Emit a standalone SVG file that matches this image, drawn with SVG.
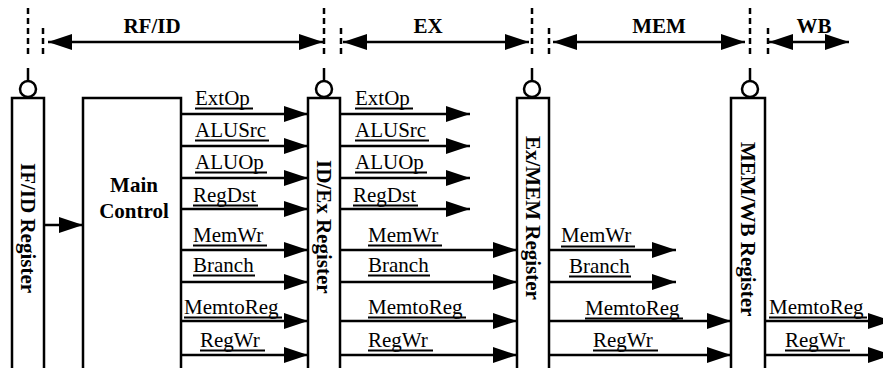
<svg xmlns="http://www.w3.org/2000/svg" width="883" height="368" viewBox="0 0 883 368">
<defs>
<marker id="ah" markerUnits="userSpaceOnUse" markerWidth="24" markerHeight="16" refX="24" refY="8" orient="auto-start-reverse" viewBox="0 0 24 16"><path d="M0,0 L24,8 L0,16 z" fill="#000"/></marker>
</defs>
<style>
.ln{stroke:#000;stroke-width:2.5;fill:none}
.arr{stroke:#000;stroke-width:2.5;fill:none;marker-end:url(#ah)}
.dbl{stroke:#000;stroke-width:2.5;fill:none;marker-start:url(#ah);marker-end:url(#ah)}
.dash{stroke:#000;stroke-width:2.5;stroke-dasharray:6 4;fill:none}
.reg{fill:#fff;stroke:#000;stroke-width:2.5}
.t{font-family:"Liberation Serif","Times New Roman",serif;font-size:21px;fill:#000}
.b{font-weight:bold}
.ul{stroke:#000;stroke-width:2}
</style>
<rect width="883" height="368" fill="#fff"/>

<g id="stages">
  <path class="dash" d="M28,8V57 M324,8V57 M532,8V57 M750,8V57"/>
  <path class="dash" d="M43,28V56 M341,28V56 M549,28V56 M768,28V56"/>
  <line class="dbl" x1="48" y1="42" x2="323" y2="42"/>
  <line class="dbl" x1="343" y1="42" x2="529" y2="42"/>
  <line class="dbl" x1="553" y1="42" x2="745" y2="42"/>
  <line class="dbl" x1="769" y1="42" x2="849" y2="42"/>
  <text class="t b" x="152" y="33" text-anchor="middle">RF/ID</text>
  <text class="t b" x="428" y="33" text-anchor="middle">EX</text>
  <text class="t b" x="659" y="33" text-anchor="middle">MEM</text>
  <text class="t b" x="814" y="33" text-anchor="middle">WB</text>
</g>

<g id="ifid">
  <line class="ln" x1="28" y1="68" x2="28" y2="81"/>
  <circle class="reg" cx="28" cy="89" r="8"/>
  <rect class="reg" x="12" y="98" width="32" height="290"/>
  <text class="t b" transform="translate(21,163) rotate(90)">IF/ID Register</text>
</g>

<g id="idex">
  <line class="ln" x1="324" y1="68" x2="324" y2="81"/>
  <circle class="reg" cx="324" cy="89" r="8"/>
  <rect class="reg" x="308" y="98" width="32" height="290"/>
  <text class="t b" transform="translate(317,160) rotate(90)">ID/Ex Register</text>
</g>

<g id="exmem">
  <line class="ln" x1="532" y1="68" x2="532" y2="81"/>
  <circle class="reg" cx="532" cy="89" r="8"/>
  <rect class="reg" x="517" y="98" width="32" height="290"/>
  <text class="t b" transform="translate(526,136) rotate(90)">Ex/MEM Register</text>
</g>

<g id="memwb">
  <line class="ln" x1="750" y1="68" x2="750" y2="81"/>
  <circle class="reg" cx="750" cy="89" r="8"/>
  <rect class="reg" x="731" y="98" width="34" height="290"/>
  <text class="t b" transform="translate(741,142) rotate(90)">MEM/WB Register</text>
</g>

<g id="main-control">
  <rect class="reg" x="83" y="98" width="98" height="290"/>
  <text class="t b" x="134" y="192" text-anchor="middle">Main</text>
  <text class="t b" x="134" y="218" text-anchor="middle">Control</text>
</g>

<g id="connectors">
  <line class="arr" x1="44" y1="225" x2="83" y2="225"/>
  <!-- column 1 -->
  <line class="arr" x1="181" y1="114" x2="308" y2="114"/>
  <line class="arr" x1="181" y1="146" x2="308" y2="146"/>
  <line class="arr" x1="181" y1="178" x2="308" y2="178"/>
  <line class="arr" x1="181" y1="209" x2="308" y2="209"/>
  <line class="arr" x1="181" y1="250" x2="308" y2="250"/>
  <line class="arr" x1="181" y1="282" x2="308" y2="282"/>
  <line class="arr" x1="181" y1="321" x2="308" y2="321"/>
  <line class="arr" x1="181" y1="355" x2="308" y2="355"/>
  <text class="t" x="195" y="105">ExtOp</text>
  <text class="t" x="195" y="137">ALUSrc</text>
  <text class="t" x="195" y="169">ALUOp</text>
  <text class="t" x="193" y="202">RegDst</text>
  <text class="t" x="193" y="242">MemWr</text>
  <text class="t" x="193" y="272">Branch</text>
  <text class="t" x="184" y="314">MemtoReg</text>
  <text class="t" x="200" y="347">RegWr</text>
  <path class="ul" d="M195,108.5H253 M195,140.5H269 M195,172.5H267 M193,205.5H258 M193,245.5H267 M193,275.5H255 M184,317.5H282 M200,350.5H265"/>
  <!-- column 2 -->
  <line class="arr" x1="340" y1="114" x2="470" y2="114"/>
  <line class="arr" x1="340" y1="146" x2="470" y2="146"/>
  <line class="arr" x1="340" y1="178" x2="470" y2="178"/>
  <line class="arr" x1="340" y1="209" x2="470" y2="209"/>
  <line class="arr" x1="340" y1="250" x2="517" y2="250"/>
  <line class="arr" x1="340" y1="282" x2="517" y2="282"/>
  <line class="arr" x1="340" y1="321" x2="517" y2="321"/>
  <line class="arr" x1="340" y1="355" x2="517" y2="355"/>
  <text class="t" x="355" y="105">ExtOp</text>
  <text class="t" x="355" y="137">ALUSrc</text>
  <text class="t" x="355" y="169">ALUOp</text>
  <text class="t" x="353" y="202">RegDst</text>
  <text class="t" x="368" y="242">MemWr</text>
  <text class="t" x="368" y="272">Branch</text>
  <text class="t" x="368" y="314">MemtoReg</text>
  <text class="t" x="368" y="347">RegWr</text>
  <path class="ul" d="M355,108.5H413 M355,140.5H429 M355,172.5H427 M353,205.5H418 M368,245.5H442 M368,275.5H430 M368,317.5H466 M368,350.5H433"/>
  <!-- column 3 -->
  <line class="arr" x1="549" y1="250" x2="676" y2="250"/>
  <line class="arr" x1="549" y1="282" x2="676" y2="282"/>
  <line class="arr" x1="549" y1="321" x2="731" y2="321"/>
  <line class="arr" x1="549" y1="355" x2="731" y2="355"/>
  <text class="t" x="561" y="242">MemWr</text>
  <text class="t" x="569" y="273">Branch</text>
  <text class="t" x="585" y="315">MemtoReg</text>
  <text class="t" x="593" y="347">RegWr</text>
  <path class="ul" d="M561,246.5H635 M569,276.5H631 M585,318.5H683 M593,350.5H658"/>
  <!-- column 4 -->
  <line class="arr" x1="765" y1="321" x2="892" y2="321"/>
  <line class="arr" x1="765" y1="355" x2="892" y2="355"/>
  <text class="t" x="769" y="314">MemtoReg</text>
  <text class="t" x="785" y="347">RegWr</text>
  <path class="ul" d="M769,317.5H867 M785,350.5H850"/>
</g>
</svg>
